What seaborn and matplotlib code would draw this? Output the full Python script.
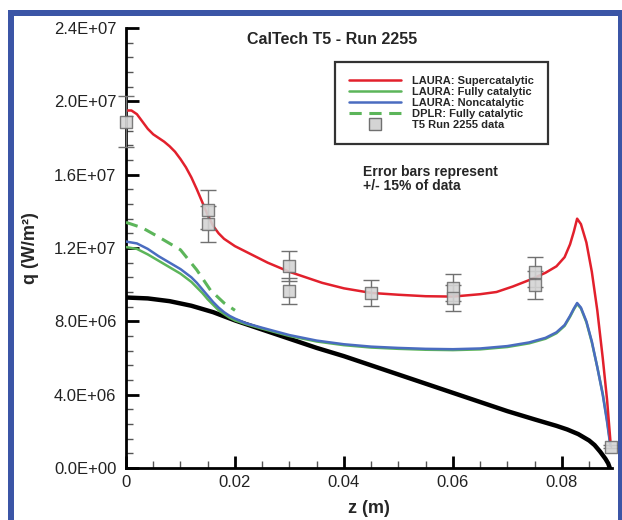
import matplotlib
matplotlib.use("Agg")
import matplotlib.pyplot as plt
from matplotlib.lines import Line2D
from matplotlib.patches import Rectangle
from matplotlib.ticker import MultipleLocator, FuncFormatter
import numpy as np
import pandas as pd
import seaborn as sns

# Heating along the body, z in metres, q in W/m^2
z_super = [0, 0.001, 0.002, 0.003, 0.004, 0.005, 0.006, 0.007, 0.008, 0.009, 0.010,
           0.011, 0.012, 0.013, 0.014, 0.015, 0.016, 0.017, 0.018, 0.019, 0.020,
           0.022, 0.024, 0.026, 0.028, 0.030, 0.033, 0.036, 0.040, 0.045, 0.050,
           0.055, 0.060, 0.065, 0.068, 0.071, 0.074, 0.077, 0.079, 0.0805, 0.0815,
           0.0822, 0.0828, 0.0835, 0.0845, 0.0855, 0.0865, 0.0875, 0.0883, 0.0889]
q_super = [1.95e7, 1.95e7, 1.93e7, 1.89e7, 1.85e7, 1.82e7, 1.80e7, 1.78e7, 1.755e7,
           1.725e7, 1.685e7, 1.64e7, 1.585e7, 1.52e7, 1.45e7, 1.38e7, 1.32e7, 1.28e7,
           1.25e7, 1.23e7, 1.21e7, 1.18e7, 1.15e7, 1.12e7, 1.095e7, 1.07e7, 1.04e7,
           1.01e7, 0.98e7, 0.955e7, 0.945e7, 0.937e7, 0.935e7, 0.948e7, 0.96e7,
           0.99e7, 1.025e7, 1.065e7, 1.10e7, 1.15e7, 1.22e7, 1.29e7, 1.36e7, 1.33e7,
           1.23e7, 1.07e7, 0.86e7, 0.60e7, 0.37e7, 0.15e7]

z_cat = [0, 0.002, 0.004, 0.006, 0.008, 0.010, 0.012, 0.013, 0.014, 0.015, 0.016,
         0.017, 0.018, 0.019, 0.020, 0.022, 0.025, 0.030, 0.035, 0.040, 0.045, 0.050,
         0.055, 0.060, 0.065, 0.070, 0.074, 0.077, 0.079, 0.0805, 0.0815, 0.0822,
         0.0828, 0.0835, 0.0845, 0.0855, 0.0865, 0.0875, 0.0883, 0.0889]
q_fully = [1.205e7, 1.195e7, 1.165e7, 1.13e7, 1.095e7, 1.06e7, 1.015e7, 0.985e7,
           0.955e7, 0.92e7, 0.89e7, 0.86e7, 0.84e7, 0.82e7, 0.805e7, 0.785e7, 0.76e7,
           0.72e7, 0.69e7, 0.67e7, 0.657e7, 0.65e7, 0.645e7, 0.643e7, 0.647e7, 0.66e7,
           0.68e7, 0.705e7, 0.735e7, 0.775e7, 0.825e7, 0.865e7, 0.895e7, 0.87e7,
           0.795e7, 0.685e7, 0.55e7, 0.405e7, 0.26e7, 0.13e7]
q_non = [1.235e7, 1.225e7, 1.195e7, 1.155e7, 1.12e7, 1.085e7, 1.04e7, 1.01e7, 0.975e7,
         0.94e7, 0.905e7, 0.875e7, 0.85e7, 0.83e7, 0.815e7, 0.79e7, 0.765e7, 0.725e7,
         0.695e7, 0.675e7, 0.662e7, 0.655e7, 0.65e7, 0.648e7, 0.652e7, 0.665e7,
         0.685e7, 0.71e7, 0.74e7, 0.78e7, 0.83e7, 0.87e7, 0.90e7, 0.875e7, 0.80e7,
         0.69e7, 0.55e7, 0.40e7, 0.25e7, 0.12e7]

z_dplr = [0, 0.003, 0.006, 0.010, 0.013, 0.0155, 0.018, 0.020]
q_dplr = [1.34e7, 1.31e7, 1.26e7, 1.19e7, 1.08e7, 0.97e7, 0.90e7, 0.86e7]

z_base = [0, 0.004, 0.008, 0.012, 0.016, 0.020, 0.025, 0.030, 0.035, 0.040, 0.045,
          0.050, 0.055, 0.060, 0.065, 0.070, 0.075, 0.079, 0.081, 0.083, 0.085,
          0.086, 0.087, 0.088, 0.0885, 0.0888]
q_base = [0.93e7, 0.925e7, 0.91e7, 0.885e7, 0.85e7, 0.805e7, 0.755e7, 0.705e7,
          0.655e7, 0.61e7, 0.56e7, 0.51e7, 0.46e7, 0.41e7, 0.36e7, 0.31e7, 0.265e7,
          0.23e7, 0.21e7, 0.185e7, 0.15e7, 0.125e7, 0.09e7, 0.05e7, 0.025e7, 0.0]

z_t5 = [0, 0.015, 0.015, 0.030, 0.030, 0.045, 0.060, 0.060, 0.075, 0.075, 0.089]
q_t5 = [1.89e7, 1.41e7, 1.33e7, 1.10e7, 0.966e7, 0.955e7, 0.982e7, 0.928e7,
        1.07e7, 0.999e7, 0.115e7]
err_frac = 0.075

legend_labels = ["LAURA: Supercatalytic", "LAURA: Fully catalytic",
                 "LAURA: Noncatalytic", "DPLR: Fully catalytic", "T5 Run 2255 data"]
x_ticks = [0, 0.02, 0.04, 0.06, 0.08]
y_ticks = [0, 4e6, 8e6, 1.2e7, 1.6e7, 2.0e7, 2.4e7]

RED = "#e2202c"
GREEN = "#5cb55a"
BLUE = "#4a6cc0"
FRAME = "#3b55a6"

sns.set_theme(style="white")
plt.rcParams["font.family"] = ["Liberation Sans", "DejaVu Sans"]
plt.rcParams["axes.unicode_minus"] = False

fig = plt.figure(figsize=(6.22, 5.20), dpi=100)
ax = fig.add_axes([126 / 622, 1 - 468 / 520, 486 / 622, 440 / 520])

sns.lineplot(x=z_super, y=q_super, ax=ax, color=RED, lw=1.8, zorder=4)
cat = pd.DataFrame({"z": z_cat, "fully": q_fully, "non": q_non})
sns.lineplot(data=cat, x="z", y="fully", ax=ax, color=GREEN, lw=1.8, zorder=3)
sns.lineplot(data=cat, x="z", y="non", ax=ax, color=BLUE, lw=1.8, zorder=3.5)
sns.lineplot(x=z_dplr, y=q_dplr, ax=ax, color=GREEN, lw=2.2, zorder=3,
             linestyle=(0, (4, 2.5)))
sns.lineplot(x=z_base, y=q_base, ax=ax, color="black", lw=3.2, zorder=2)

q_arr = np.array(q_t5)
ax.errorbar(z_t5, q_arr, yerr=err_frac * q_arr, fmt="none", ecolor="#707070",
            elinewidth=1.0, capsize=6, capthick=1.0, zorder=5, clip_on=False)
sns.scatterplot(x=z_t5, y=q_t5, ax=ax, marker="s", s=85, color="#d4d4d4",
                edgecolor="#707070", linewidth=1.0, alpha=0.9, zorder=6, clip_on=False)

ax.set_xlim(0, 0.0892)
ax.set_ylim(0, 2.4e7)
ax.set_xticks(x_ticks)
ax.set_yticks(y_ticks)
ax.xaxis.set_minor_locator(MultipleLocator(0.005))
ax.yaxis.set_minor_locator(MultipleLocator(0.8e6))
ax.xaxis.set_major_formatter(FuncFormatter(lambda v, p: "0" if v == 0 else f"{v:.2f}"))
ax.yaxis.set_major_formatter(FuncFormatter(lambda v, p: f"{v:.1E}"))
ax.tick_params(which="major", direction="in", length=9, width=2, labelsize=12,
               color="black", labelcolor="#222222")
ax.tick_params(which="minor", direction="in", length=5, width=1, color="#555555")
ax.tick_params(axis="y", which="major", pad=7)
ax.tick_params(axis="x", which="major", pad=5)
ax.tick_params(axis="both", which="both", left=True, bottom=True)
for side in ("top", "right"):
    ax.spines[side].set_visible(False)
for side in ("left", "bottom"):
    ax.spines[side].set_linewidth(2)
    ax.spines[side].set_color("black")

ax.set_xlabel("z (m)", fontsize=13, fontweight="bold")
ax.set_ylabel("q (W/m²)", fontsize=13, fontweight="bold")
ax.xaxis.set_label_coords(0.50, -0.072)
ax.yaxis.set_label_coords(-0.18, 0.5)

ax.text(0.424, 0.973, "CalTech T5 - Run 2255", transform=ax.transAxes,
        ha="center", va="center", fontsize=11.5, fontweight="bold")
ax.text(0.488, 0.689, "Error bars represent\n+/- 15% of data", transform=ax.transAxes,
        ha="left", va="top", fontsize=10, fontweight="bold", linespacing=1.05)

handles = [
    Line2D([], [], color=RED, lw=1.8),
    Line2D([], [], color=GREEN, lw=1.8),
    Line2D([], [], color=BLUE, lw=1.8),
    Line2D([], [], color=GREEN, lw=2.2, linestyle=(0, (4, 2.5))),
    Line2D([], [], color="none", marker="s", markersize=8.5, markerfacecolor="#d4d4d4",
           markeredgecolor="#707070"),
]
leg = ax.legend(handles, legend_labels, loc="upper left", bbox_to_anchor=(0.43, 0.923),
                borderaxespad=0, frameon=True, fancybox=False,
                prop={"weight": "bold", "size": 8}, handlelength=4.6,
                handletextpad=1.0, labelspacing=0.08, borderpad=1.3)
leg.get_frame().set_edgecolor("black")
leg.get_frame().set_linewidth(1.6)
leg.get_frame().set_facecolor("white")
leg.set_zorder(10)

# Blue page frame around the figure
fig.add_artist(Rectangle((8 / 622, 0), 6 / 622, 1 - 10 / 520, transform=fig.transFigure,
                         facecolor=FRAME, edgecolor="none"))
fig.add_artist(Rectangle((8 / 622, 1 - 16 / 520), 1, 6 / 520, transform=fig.transFigure,
                         facecolor=FRAME, edgecolor="none"))
fig.add_artist(Rectangle((618 / 622, 0), 4 / 622, 1 - 10 / 520, transform=fig.transFigure,
                         facecolor=FRAME, edgecolor="none"))

fig.savefig("out.png", dpi=100)
